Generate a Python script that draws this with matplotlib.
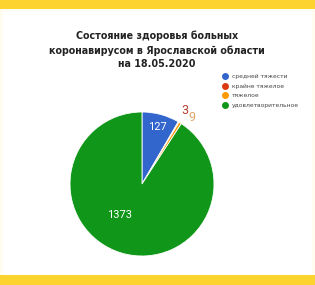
import matplotlib
matplotlib.use("Agg")
import matplotlib.pyplot as plt
from matplotlib.patches import Rectangle
from matplotlib.lines import Line2D
import numpy as np

labels = ["средней тяжести", "крайне тяжелое", "тяжелое", "удовлетворительное"]
values = [127, 3, 9, 1373]
colors = ["#3366cc", "#dc3912", "#ff9900", "#109618"]
title = "Состояние здоровья больных\nкоронавирусом в Ярославской области\nна 18.05.2020"

W, H = 315, 285
fig = plt.figure(figsize=(W / 100, H / 100), dpi=100)
fig.patch.set_facecolor("#fffdf0")

# white card + yellow bands
fig.patches.append(Rectangle((3 / W, 10 / H), 309 / W, 264 / H, transform=fig.transFigure,
                             facecolor="white", edgecolor="none", zorder=-2))
fig.patches.append(Rectangle((0, 1 - 9 / H), 1, 9 / H, transform=fig.transFigure,
                             facecolor="#fdd32f", edgecolor="none", zorder=-2))
fig.patches.append(Rectangle((0, 0), 1, 10 / H, transform=fig.transFigure,
                             facecolor="#fdd32f", edgecolor="none", zorder=-2))

fig.text(157 / W, 1 - 50 / H, title, ha="center", va="center", fontsize=7.7,
         fontweight="bold", color="#222222", linespacing=1.45,
         family="DejaVu Sans", fontstretch="condensed")

# pie: centre (142,184), radius 72 px
ax = fig.add_axes([70 / W, (H - 256) / H, 144 / W, 144 / H])
ax.set_zorder(1)
wedges, _ = ax.pie(values, colors=colors, startangle=90, counterclock=False, radius=1,
                   wedgeprops=dict(edgecolor="white", linewidth=0.6))
ax.set_xlim(-1, 1)
ax.set_ylim(-1, 1)
ax.set_aspect("equal")
ax.axis("off")

# label placement (radius, angle nudge in degrees, colour, size)
place = [(0.82, 0, "white", 8), (1.18, 0, "#b5402e", 9), (1.15, -5, "#dfa564", 9),
         (0.53, -19, "white", 8)]
for w, v, (r, da, c, s) in zip(wedges, values, place):
    ang = np.deg2rad((w.theta1 + w.theta2) / 2 + da)
    ax.text(r * np.cos(ang), r * np.sin(ang), str(v), ha="center", va="center",
            color=c, fontsize=s, family="Roboto", clip_on=False)

handles = [Line2D([], [], marker="o", linestyle="", markersize=4, markerfacecolor=c,
                  markeredgecolor=c) for c in colors]
fig.legend(handles, labels, loc="upper left", bbox_to_anchor=(219 / W, 1 - 71 / H),
           frameon=False, fontsize=4.3, labelspacing=0.75, handletextpad=0.6,
           handlelength=1.0, borderpad=0, labelcolor="#444444")

fig.savefig("out.png", dpi=100)
